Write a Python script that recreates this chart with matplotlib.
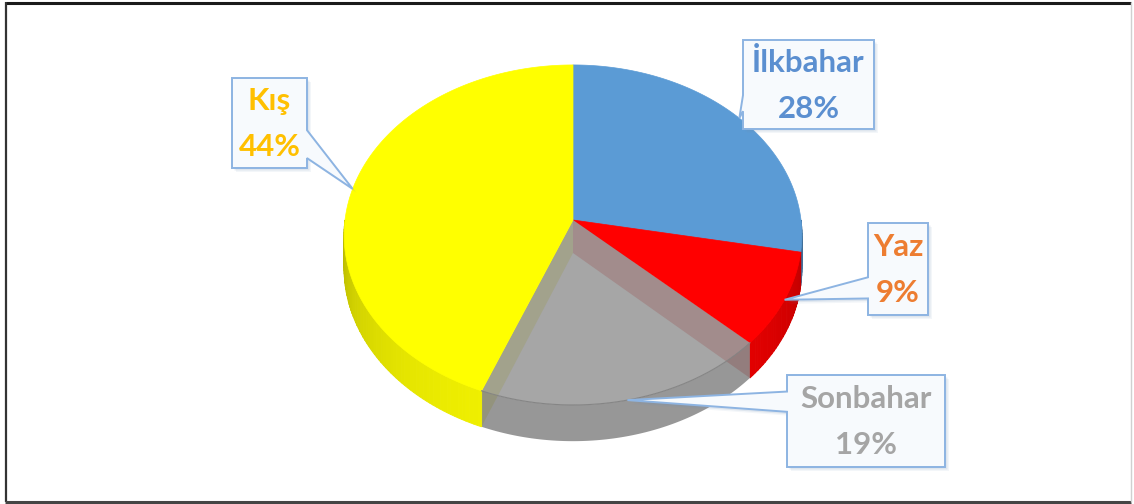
import numpy as np
import matplotlib
matplotlib.use("Agg")
import matplotlib.pyplot as plt
from matplotlib.colors import to_rgb

# Seasonal shares
seasons = ["İlkbahar", "Yaz", "Sonbahar", "Kış"]
shares = [28, 9, 19, 44]
slice_colors = ["#5b9bd5", "#ff0000", "#9c9c9c", "#ffff00"]
slice_alpha = [1.0, 1.0, 0.9, 1.0]
label_colors = ["#5b8fd0", "#ed7d31", "#a5a5a5", "#ffc000"]

W, H = 1134, 504
fig = plt.figure(figsize=(W / 100, H / 100), dpi=100)
ax = fig.add_axes([0, 0, 1, 1])
ax.set_xlim(0, W)
ax.set_ylim(H, 0)
ax.axis("off")

# Tilted disc seen in perspective (pixel units)
cx, cy = 573, 220
rx, ry = 228, 168.7
persp = 0.088
thick = 33


def project(x, y, drop=0.0):
    s = 1.0 / (1.0 + persp * y)
    return cx + rx * x * s, cy + (-ry * y + drop) * s


def shaded(col, f):
    return tuple(np.clip(np.array(to_rgb(col)) * f, 0, 1))


# Slice angles: clockwise from twelve o'clock, in math degrees
fractions = np.array(shares, float) / np.sum(shares)
ends = 90 - 360 * np.cumsum(fractions)
starts = np.concatenate([[90.0], ends[:-1]])

# Inner cut faces that turn towards the viewer (seen through the clear slice)
for a_hi, a_lo, col in zip(starts, ends, slice_colors):
    for ang, faces_front in [(a_hi, np.cos(np.deg2rad(a_hi)) < 0),
                             (a_lo, np.cos(np.deg2rad(a_lo)) > 0)]:
        if not faces_front or np.sin(np.deg2rad(ang)) > 0:
            continue
        c, s = np.cos(np.deg2rad(ang)), np.sin(np.deg2rad(ang))
        p = [project(0, 0), project(c, s), project(c, s, thick),
             project(0, 0, thick)]
        ax.fill([q[0] for q in p], [q[1] for q in p],
                color=shaded(col, 0.85), lw=0, zorder=1.5)

# Side walls on the near half of the disc
for a_hi, a_lo, col, al in zip(starts, ends, slice_colors, slice_alpha):
    for k in (-1, 0, 1):
        lo = max(a_lo, 180 + 360 * k)
        hi = min(a_hi, 360 + 360 * k)
        if lo >= hi:
            continue
        if al < 1:
            # translucent slice: one flat wall so no seams show through
            tt = np.deg2rad(np.linspace(lo, hi, 120))
            tx, ty = project(np.cos(tt), np.sin(tt))
            bx, by = project(np.cos(tt[::-1]), np.sin(tt[::-1]), thick)
            ax.fill(np.concatenate([tx, bx]), np.concatenate([ty, by]),
                    color=shaded(col, 0.9), lw=0, alpha=al, zorder=2)
            continue
        cuts = np.linspace(lo, hi, max(2, int(hi - lo) + 1))
        for t0, t1 in zip(cuts[:-1], cuts[1:]):
            tm = np.deg2rad((t0 + t1) / 2)
            c = shaded(col, 0.68 + 0.27 * max(0.0, -np.sin(tm)) ** 0.7)
            tt = np.deg2rad(np.linspace(t0, t1, 4))
            tx, ty = project(np.cos(tt), np.sin(tt))
            bx, by = project(np.cos(tt[::-1]), np.sin(tt[::-1]), thick)
            ax.fill(np.concatenate([tx, bx]), np.concatenate([ty, by]),
                    color=c, lw=0.7, ec=c, zorder=2)

# Top faces
for a_hi, a_lo, col, al in zip(starts, ends, slice_colors, slice_alpha):
    tt = np.deg2rad(np.linspace(a_hi, a_lo, 200))
    ex, ey = project(np.cos(tt), np.sin(tt))
    ox, oy = project(0.0, 0.0)
    if al < 1:
        ax.fill(np.concatenate([[ox], ex]), np.concatenate([[oy], ey]),
                color=col, lw=0, alpha=al, zorder=3)
        ax.plot(ex, ey, color=shaded(col, 0.85), lw=0.8, zorder=3.1)
    else:
        ax.fill(np.concatenate([[ox], ex]), np.concatenate([[oy], ey]),
                color=col, lw=0.5, ec=col, zorder=3)

# Callout boxes: (left, top, right, bottom) and pointer base along the side edge
boxes = [(743, 40, 874, 129), (868, 223, 928, 315),
         (787, 375, 945, 467), (232, 78, 307, 168)]
bases = [(0.62, 0.80), (0.59, 0.82), (0.18, 0.40), (0.58, 0.89)]
box_fc = "#f7fafd"
box_ec = "#8db4e2"

for a_hi, a_lo, name, s, tc, (x0, y0, x1, y1), (f0, f1) in zip(
        starts, ends, seasons, shares, label_colors, boxes, bases):
    mid = np.deg2rad((a_hi + a_lo) / 2)
    tipx, tipy = project(np.cos(mid), np.sin(mid))
    b0 = y0 + f0 * (y1 - y0)
    b1 = y0 + f1 * (y1 - y0)
    if tipx < x0:
        xs = [x0, x1, x1, x0, x0, tipx, x0]
        ys = [y0, y0, y1, y1, b1, tipy, b0]
    else:
        xs = [x0, x1, x1, tipx, x1, x1, x0]
        ys = [y0, y0, b0, tipy, b1, y1, y1]
    xs.append(xs[0])
    ys.append(ys[0])
    for off, alpha in [(4, 0.08), (2.5, 0.15)]:
        ax.fill(np.array(xs) + off, np.array(ys) + off, color="#6f8fb5",
                alpha=alpha, lw=0, zorder=4)
    ax.fill(xs, ys, fc=box_fc, ec=box_ec, lw=1.4, zorder=5,
            joinstyle="miter")
    xc = (x0 + x1) / 2
    yc = (y0 + y1) / 2
    for txt, dy in [(name, -13), (f"{s}%", 33)]:
        ax.text(xc, yc + dy, txt, ha="center", va="baseline",
                fontsize=22.5, fontweight="bold", family="Lato",
                color=tc, zorder=6)

# Outer frame
for (xa, ya, xb, yb, c, lw) in [(5, 2.5, 1131, 2.5, "#1a1a1a", 2.2),
                                 (5.5, 2, 5.5, 502, "#333333", 1.6),
                                 (5, 502, 1131, 502, "#444444", 2.2),
                                 (1131, 2, 1131, 502, "#d0d0d0", 1.0)]:
    ax.plot([xa, xb], [ya, yb], color=c, lw=lw, zorder=7,
            solid_capstyle="butt", clip_on=False)

fig.savefig("out.png", dpi=100, facecolor="white")
